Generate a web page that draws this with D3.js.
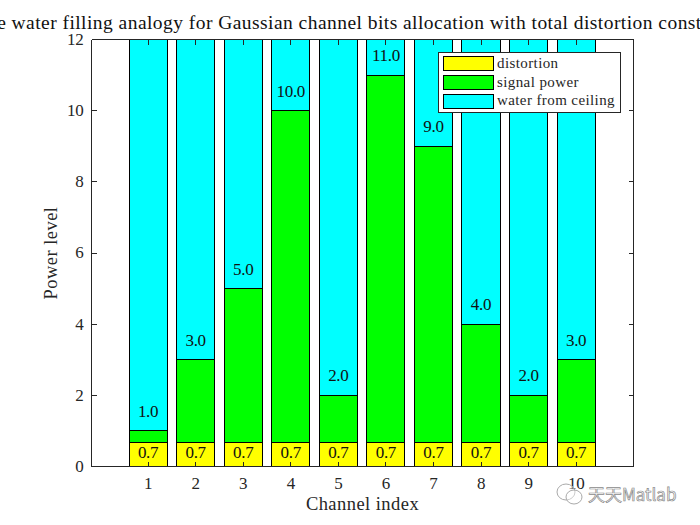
<!DOCTYPE html>
<html>
<head>
<meta charset="utf-8">
<title>Reverse water filling</title>
<script src="https://d3js.org/d3.v7.min.js"></script>
<style>
 body { margin: 0; background: #fff; }
 svg { display: block; }
 text { font-family: "Liberation Serif", serif; fill: #262626; }
 .tick text { font-size: 17px; letter-spacing: -0.3px; }
 .axis path, .axis line { fill: none; stroke: #262626; stroke-width: 1; shape-rendering: crispEdges; }
 .bar { stroke: #000; stroke-width: 1; shape-rendering: crispEdges; }
 .value { font-size: 17px; letter-spacing: -0.3px; text-anchor: middle; fill: #111; }
 .title { font-size: 19.5px; text-anchor: middle; fill: #111; letter-spacing: 0.45px; }
 .label { font-size: 18.5px; text-anchor: middle; letter-spacing: 0.45px; }
 .legend-text { font-size: 15px; letter-spacing: 0.4px; }
 .mark { font-family: "Noto Sans CJK SC", "Noto Sans", sans-serif; fill: #fff; stroke: #8a8a8a; stroke-width: 0.7; font-size: 17px; }
</style>
</head>
<body>
<div id="chart"></div>
<script>
var channels = [1, 2, 3, 4, 5, 6, 7, 8, 9, 10];
var signalLevel = [1, 3, 5, 10, 2, 11, 9, 4, 2, 3];
var distortion = [0.667, 0.667, 0.667, 0.667, 0.667, 0.667, 0.667, 0.667, 0.667, 0.667];
var ceiling = 12;
var yTicks = [0, 2, 4, 6, 8, 10, 12];
var legendNames = ["distortion", "signal power", "water from ceiling"];
var legendColors = ["#ffff00", "#00ff00", "#00ffff"];

var width = 700, height = 525;
var left = 91.5, right = 633.5, top_ = 39.5, bottom = 466.5;

var x = d3.scaleLinear().domain([-0.19, 11.206]).range([left, right]);
var y = d3.scaleLinear().domain([0, ceiling]).range([bottom, top_]);
var barW = x(0.8) - x(0);

var svg = d3.select("#chart").append("svg")
  .attr("width", width)
  .attr("height", height);

// stacked bars: distortion, then signal, then water up to the ceiling
channels.forEach(function(c, i) {
  var segs = [
    [0, distortion[i], legendColors[0]],
    [distortion[i], signalLevel[i], legendColors[1]],
    [signalLevel[i], ceiling, legendColors[2]]
  ];
  svg.selectAll(".seg" + c)
    .data(segs)
    .enter()
    .append("rect")
    .attr("class", "bar")
    .attr("x", x(c) - barW / 2)
    .attr("width", barW)
    .attr("y", function(d) { return y(d[1]); })
    .attr("height", function(d) { return y(d[0]) - y(d[1]); })
    .attr("fill", function(d) { return d[2]; });
});

// axes, box style with inward ticks
svg.append("g").attr("class", "axis")
  .attr("transform", "translate(0," + bottom + ")")
  .call(d3.axisBottom(x).offset(0).tickValues(channels).tickFormat(d3.format("d")).tickSize(-5).tickSizeOuter(0).tickPadding(10));
svg.append("g").attr("class", "axis")
  .attr("transform", "translate(0," + top_ + ")")
  .call(d3.axisTop(x).offset(0).tickValues(channels).tickFormat("").tickSize(-5).tickSizeOuter(0));
svg.append("g").attr("class", "axis")
  .attr("transform", "translate(" + left + ",0)")
  .call(d3.axisLeft(y).offset(0).tickValues(yTicks).tickFormat(d3.format("d")).tickSize(-5).tickSizeOuter(0).tickPadding(8));
svg.append("g").attr("class", "axis")
  .attr("transform", "translate(" + right + ",0)")
  .call(d3.axisRight(y).offset(0).tickValues(yTicks).tickFormat("").tickSize(-5).tickSizeOuter(0));

// value labels
svg.selectAll(".sig-label")
  .data(channels)
  .enter()
  .append("text")
  .attr("class", "value")
  .attr("x", function(c) { return x(c); })
  .attr("y", function(c, i) { return y(signalLevel[i]) - 14; })
  .text(function(c, i) { return signalLevel[i].toFixed(1); });

svg.selectAll(".dist-label")
  .data(channels)
  .enter()
  .append("text")
  .attr("class", "value")
  .attr("x", function(c) { return x(c); })
  .attr("y", function(c, i) { return y(distortion[i]) + 15.5; })
  .text(function(c, i) { return distortion[i].toFixed(1); });

// titles
svg.append("text")
  .attr("class", "title")
  .attr("x", 340)
  .attr("y", 29)
  .text("Reverse water filling analogy for Gaussian channel bits allocation with total distortion constraint");

svg.append("text")
  .attr("class", "label")
  .attr("x", 362.5)
  .attr("y", 510)
  .text("Channel index");

svg.append("text")
  .attr("class", "label")
  .attr("transform", "translate(57,253) rotate(-90)")
  .text("Power level");

// legend
var legend = svg.append("g").attr("transform", "translate(438.5,52.5)");
legend.append("rect")
  .attr("width", 182)
  .attr("height", 60)
  .attr("fill", "#fff")
  .attr("stroke", "#262626")
  .attr("shape-rendering", "crispEdges");
legendNames.forEach(function(name, i) {
  legend.append("rect")
    .attr("class", "bar")
    .attr("x", 5)
    .attr("y", 4 + i * 19)
    .attr("width", 50)
    .attr("height", 14)
    .attr("fill", legendColors[i]);
  legend.append("text")
    .attr("class", "legend-text")
    .attr("x", 58.5)
    .attr("y", 15.5 + i * 18.7)
    .text(name);
});

// watermark
var mark = svg.append("g").attr("transform", "translate(555,484)");
mark.append("ellipse").attr("cx", 11).attr("cy", 8).attr("rx", 9).attr("ry", 8)
  .attr("fill", "#fff").attr("fill-opacity", 0.4).attr("stroke", "#aaa");
mark.append("ellipse").attr("cx", 19).attr("cy", 13).attr("rx", 8).attr("ry", 7)
  .attr("fill", "#fff").attr("fill-opacity", 0.4).attr("stroke", "#aaa");
mark.append("text").attr("class", "mark").attr("x", 33).attr("y", 17).text("天天Matlab");
</script>
</body>
</html>
